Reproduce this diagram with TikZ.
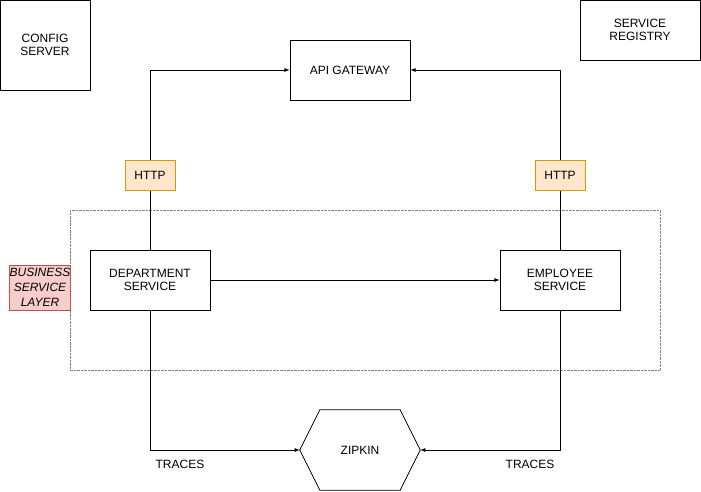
\documentclass[tikz,border=0pt]{standalone}
\usepackage{fontspec}
\setmainfont{Liberation Sans}
\usepackage{tikz}
\usetikzlibrary{positioning}
\definecolor{httpfill}{HTML}{FFE6CC}
\definecolor{httpdraw}{HTML}{D79B00}
\definecolor{layerfill}{HTML}{F8CECC}
\definecolor{layerdraw}{HTML}{B85450}
\tikzset{
  Dienst/.style={draw,thick,minimum width=120pt,minimum height=60pt,align=center}, % für Dienste
  Etikett/.style={draw=httpdraw,fill=httpfill,minimum width=50pt,minimum height=30pt}, % für HTTP
  Pfeil/.style={thick,->} % für Verbindungen
}
\begin{document}
\begin{tikzpicture}[x=1pt,y=-1pt,
font=\fontsize{12}{13.5}\selectfont,
>=latex % Voreinstellung für Pfeilspitzen
]
\useasboundingbox (0,0) rectangle (701,492);

%Schicht
\draw[gray,densely dotted] (70,210) rectangle (660,370);
\node[draw=layerdraw,fill=layerfill,minimum width=60pt,minimum height=45pt,
  inner sep=0pt,align=center,font=\fontsize{12}{15}\selectfont\itshape] (Schicht) at (40,287.5)
  {BUSINESS\\SERVICE\\LAYER};

%Dienste
\node[Dienst,minimum width=90pt,minimum height=90pt] (Config) at (45,45) {CONFIG\\SERVER};
\node[Dienst] (Registry) at (640,30) {SERVICE\\REGISTRY};
\node[Dienst] (Gateway) at (350,70) {API GATEWAY};
\node[Dienst] (Dept) at (150,280) {DEPARTMENT\\SERVICE};
\node[Dienst] (Empl) at (560,280) {EMPLOYEE\\SERVICE};

\node[minimum width=120pt,minimum height=80pt] (Zipkin) at (360,450) {ZIPKIN};
\draw[thick] ([xshift=20]Zipkin.north west) -- ([xshift=-20]Zipkin.north east) --
  (Zipkin.east) -- ([xshift=-20]Zipkin.south east) --
  ([xshift=20]Zipkin.south west) -- (Zipkin.west) -- cycle;

%Verbindungen
\draw[Pfeil] (Dept.north) |- (Gateway.west);
\draw[Pfeil] (Empl.north) |- (Gateway.east);
\draw[Pfeil] (Dept.east) -- (Empl.west);
\draw[Pfeil] (Dept.south) |- (Zipkin.west);
\draw[Pfeil] (Empl.south) |- (Zipkin.east);

%Beschriftungen
\node[Etikett] (HttpL) at (150,175) {HTTP};
\node[Etikett] (HttpR) at (560,175) {HTTP};
\node (TracesL) at (180,464) {TRACES};
\node (TracesR) at (530,464) {TRACES};

\end{tikzpicture}
\end{document}
